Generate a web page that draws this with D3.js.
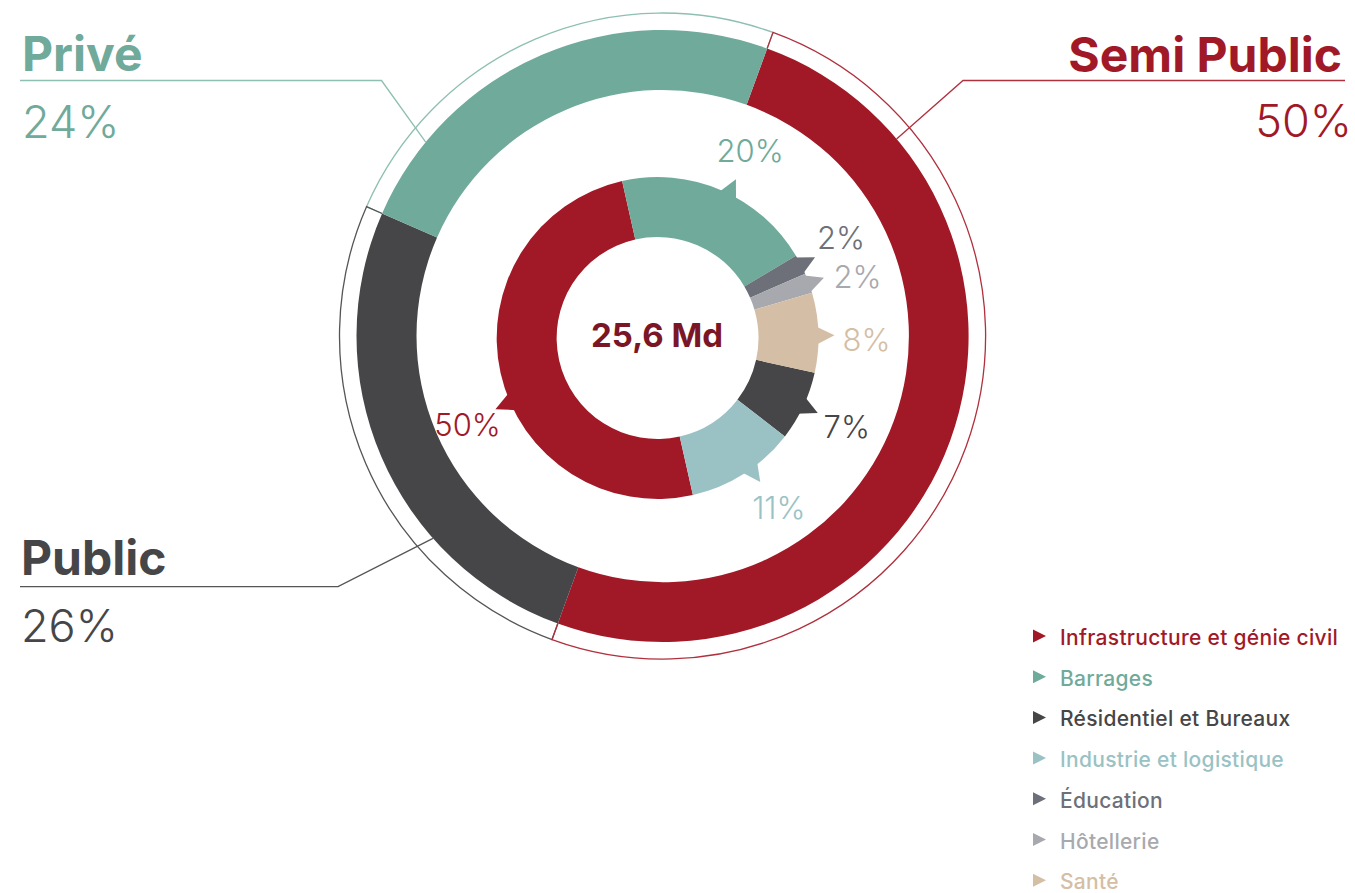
<!DOCTYPE html>
<html>
<head>
<meta charset="utf-8">
<script src="https://cdn.jsdelivr.net/npm/d3@7"></script>
<style>
body{margin:0;background:#fff;}
text{font-family:Inter,Roboto,"Noto Sans",sans-serif;}
</style>
</head>
<body>
<script>
var width=1355;
var height=893;

// inner ring : sectors (legend order)
var sectors=["Infrastructure et génie civil","Barrages","Résidentiel et Bureaux","Industrie et logistique","Éducation","Hôtellerie","Santé"];
var sectorShare=[50,20,7,11,2,2,8];
var sectorColor=["#a11927","#6faa9b","#464648","#9ac2c4","#6d7079","#a8a9ae","#d4bea5"];
var ringOrder=["Infrastructure et génie civil","Barrages","Éducation","Hôtellerie","Santé","Résidentiel et Bureaux","Industrie et logistique"]; //clockwise order on the ring

// outer ring : clients
var clients=["Semi Public","Public","Privé"];
var clientShare=[50,26,24];
var clientColor=["#a11927","#464648","#6faa9b"];
var clientLine=["#b0303d","#555557","#8dbfb2"];

var total="25,6 Md";

var rad=Math.PI/180;
var svg=d3.select("body").append("svg").attr("width",width).attr("height",height);
svg.append("rect").attr("width",width).attr("height",height).attr("fill","#fff");

// ---------- outer ring
var ocx=662.5, ocy=336;
var og=svg.append("g").attr("transform","translate("+ocx+","+ocy+")");
var opie=d3.pie().sort(null).value(function(d){return d.v;}).startAngle(20*rad).endAngle(380*rad);
var odata=opie(clients.map(function(c,i){return {name:c,v:clientShare[i],col:clientColor[i],line:clientLine[i]};}));
var oarc=d3.arc().innerRadius(246).outerRadius(306);
og.selectAll("path.seg").data(odata).enter().append("path").attr("class","seg").attr("d",oarc).attr("fill",function(d){return d.data.col;});

// thin bracket ring, drawn Privé > Public > Semi Public so ticks overlap like the original
odata.slice().reverse().forEach(function(d){
	var p=d3.path();
	var s=d3.pointRadial(d.startAngle,306), s2=d3.pointRadial(d.startAngle,323), e=d3.pointRadial(d.endAngle,306);
	p.moveTo(s[0],s[1]);
	p.lineTo(s2[0],s2[1]);
	p.arc(0,0,323,d.startAngle-Math.PI/2,d.endAngle-Math.PI/2,false);
	p.lineTo(e[0],e[1]);
	og.append("path").attr("d",p.toString()).attr("fill","none").attr("stroke",d.data.line).attr("stroke-width",1.3);
});

// ---------- inner ring
var icx=657.5, icy=338;
var ig=svg.append("g").attr("transform","translate("+icx+","+icy+")");
var ipie=d3.pie().value(function(d){return d.v;})
	.sort(function(a,b){return ringOrder.indexOf(a.name)-ringOrder.indexOf(b.name);})
	.startAngle(167.3*rad).endAngle(527.3*rad);
var idata=ipie(sectors.map(function(c,i){return {name:c,v:sectorShare[i],col:sectorColor[i]};}));
var iarc=d3.arc().innerRadius(101).outerRadius(161);
var nudge={"Infrastructure et génie civil":-11,"Barrages":3,"Industrie et logistique":-3,"Santé":1}; //pointer shifts (deg)
var lnudge={"Éducation":-1.5,"Hôtellerie":3,"Santé":1.5,"Infrastructure et génie civil":-1}; //extra label shifts (deg)

idata.forEach(function(d){
	var a=(d.startAngle+d.endAngle)/2+(nudge[d.data.name]||0)*rad;
	var w=Math.min(3.5*rad,(d.endAngle-d.startAngle)/2);
	var b1=d3.pointRadial(a-w,158), b2=d3.pointRadial(a+w,158), tip=d3.pointRadial(a,177);
	ig.append("path").attr("d","M"+b1+"L"+tip+"L"+b2+"Z").attr("fill",d.data.col); //pointer
	ig.append("path").attr("d",iarc(d)).attr("fill",d.data.col);
	var lp=d3.pointRadial(a+(lnudge[d.data.name]||0)*rad,209);
	ig.append("text").attr("x",lp[0]).attr("y",lp[1]).attr("dy","0.36em").attr("text-anchor","middle")
		.attr("font-size",31).attr("font-weight",300).attr("fill",d.data.col).text(d.data.v+"%");
});

svg.append("text").attr("x",657).attr("y",347).attr("text-anchor","middle").attr("font-size",33).attr("font-weight",700)
	.attr("fill","#7a1626").text(total);

// ---------- client titles with leader lines
var titles=[
	{i:2,x:22,y:71,py:137.5,anchor:"start",lx1:20,lx2:381.5,ly:80.5,ang:309.3},
	{i:0,x:1342,y:71.5,py:137,anchor:"end",lx1:1345,lx2:963,ly:80.5,ang:49.9},
	{i:1,x:21,y:575,py:642,anchor:"start",lx1:20,lx2:338,ly:586.7,ang:228.6}
];
titles.forEach(function(t){
	var end=d3.pointRadial(t.ang*rad,306);
	svg.append("path").attr("d","M"+t.lx1+","+t.ly+"L"+t.lx2+","+t.ly+"L"+(ocx+end[0])+","+(ocy+end[1]))
		.attr("fill","none").attr("stroke",clientLine[t.i]).attr("stroke-width",1.3);
	svg.append("text").attr("x",t.x).attr("y",t.y).attr("text-anchor",t.anchor).attr("font-size",48).attr("font-weight",700)
		.attr("fill",clientColor[t.i]).text(clients[t.i]);
	svg.append("text").attr("x",t.anchor=="end"?t.x+10:t.x).attr("y",t.py).attr("text-anchor",t.anchor).attr("font-size",45).attr("font-weight",300)
		.attr("fill",clientColor[t.i]).text(clientShare[t.i]+"%");
});

// ---------- legend
var leg=svg.append("g").attr("transform","translate(1033,636)");
sectors.forEach(function(s,i){
	var y=i*40.7;
	leg.append("path").attr("d","M0,"+(y-6.5)+"L13,"+y+"L0,"+(y+6.5)+"Z").attr("fill",sectorColor[i]);
	leg.append("text").attr("x",27).attr("y",y+9).attr("font-size",21).attr("letter-spacing",0.3).attr("font-weight",500).attr("fill",sectorColor[i]).text(s);
});
</script>
</body>
</html>
